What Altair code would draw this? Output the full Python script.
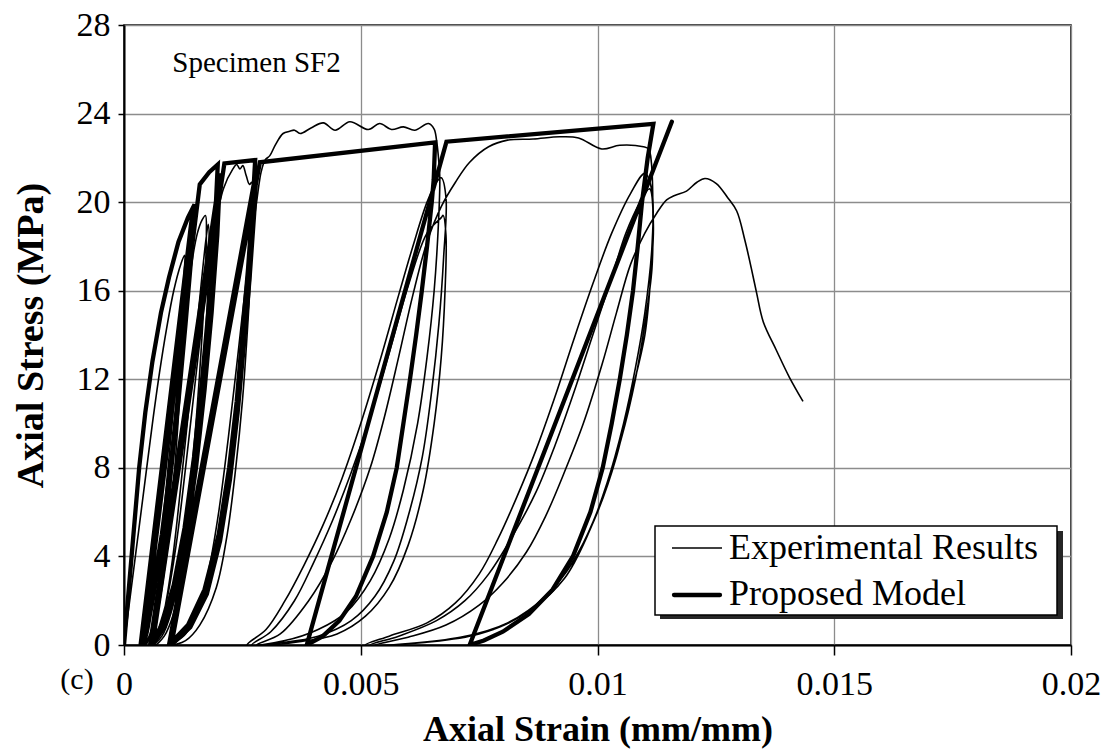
import altair as alt
import pandas as pd

# ---------------- data (strain mm/mm, stress MPa) ----------------
# Experimental results - successive branches of one continuous test record
exp_load1_x = [0, 0.00015, 0.0003, 0.00045, 0.0006, 0.00075, 0.0009, 0.00105, 0.0012, 0.00128]
exp_load1_y = [0, 2.5, 5, 7.5, 10, 12.3, 14.3, 16, 17.2, 17.6]
exp_unl1_x = [0.00126, 0.0012, 0.0011, 0.00098, 0.00085, 0.0007, 0.00055, 0.00042]
exp_unl1_y = [16.5, 14, 10.5, 7, 4, 1.8, 0.5, 0]
exp_rel1a_x = [0.0005, 0.00062, 0.00075, 0.0009, 0.00104, 0.00116, 0.00126, 0.00131]
exp_rel1a_y = [0.5, 2, 4.2, 7.3, 10.6, 13.6, 16, 17.2]
exp_unl1a_x = [0.0013, 0.00124, 0.00114, 0.00102, 0.00088, 0.00073, 0.00058, 0.00045]
exp_unl1a_y = [16, 13.5, 10, 6.6, 3.8, 1.7, 0.5, 0]
exp_rel1_x = [0.0005, 0.00065, 0.0008, 0.00095, 0.0011, 0.00125, 0.0014, 0.00155, 0.00165, 0.00172]
exp_rel1_y = [0.6, 2.2, 4.5, 7.5, 10.8, 14, 16.8, 18.6, 19.2, 19.4]
exp_unl2_x = [0.00174, 0.0017, 0.00162, 0.0015, 0.00136, 0.0012, 0.001, 0.0008, 0.0006]
exp_unl2_y = [18.5, 16, 13, 9.5, 6.3, 3.6, 1.5, 0.4, 0]
exp_rel2a_x = [0.00075, 0.0009, 0.00105, 0.0012, 0.00135, 0.0015, 0.00163, 0.00173, 0.00178]
exp_rel2a_y = [0.6, 2.1, 4.3, 7.2, 10.3, 13.5, 16.3, 18.3, 19.0]
exp_unl2a_x = [0.0018, 0.00176, 0.00168, 0.00156, 0.00142, 0.00126, 0.00106, 0.00085, 0.00065]
exp_unl2a_y = [18, 15.5, 12.5, 9.2, 6.1, 3.5, 1.5, 0.4, 0]
exp_rel2_x = [0.0007, 0.0009, 0.0011, 0.0013, 0.0015, 0.0017, 0.0019, 0.0021, 0.0023, 0.00238,
              0.00245, 0.00251, 0.00258, 0.00265, 0.0027]
exp_rel2_y = [0.5, 2, 4.5, 8, 11.8, 15.5, 18.6, 20.6, 21.5, 21.7, 21.5, 21.65, 21.2, 20.8, 20.9]
exp_unl3_x = [0.00272, 0.00268, 0.0026, 0.0025, 0.00236, 0.00218, 0.00195, 0.0016, 0.0013, 0.001]
exp_unl3_y = [19.5, 17, 14, 11, 8, 5, 2.6, 0.9, 0.2, 0]
exp_rel3_x = [0.0013, 0.0016, 0.0018, 0.002, 0.0022, 0.0024, 0.0026, 0.0028, 0.0029, 0.00298,
              0.00308, 0.0032, 0.00336, 0.0035, 0.0036, 0.00372, 0.00395, 0.00421, 0.00446, 0.00477,
              0.00516, 0.0054, 0.00565, 0.0059, 0.00614, 0.00643, 0.00655, 0.0066, 0.00665, 0.00667]
exp_rel3_y = [0.5, 1.8, 3.5, 6, 9.3, 13, 16.8, 20, 21.4, 21.9,
              22.1, 22.6, 23.1, 23.2, 23.25, 23.1, 23.35, 23.58, 23.25, 23.63,
              23.28, 23.55, 23.28, 23.4, 23.25, 23.55, 23.3, 22.8, 21.8, 21.1]
exp_unl4_x = [0.00664, 0.00655, 0.0064, 0.0062, 0.0059, 0.0056, 0.0052, 0.0047, 0.0041, 0.0034, 0.0026]
exp_unl4_y = [19, 16, 13, 10, 7, 4.8, 2.9, 1.5, 0.7, 0.2, 0]
exp_rel4_x = [0.003, 0.0034, 0.0038, 0.0042, 0.0046, 0.005, 0.0054, 0.0058, 0.0061, 0.0064, 0.0066, 0.0067]
exp_rel4_y = [0.7, 2, 3.6, 5.4, 7.5, 10, 12.8, 15.8, 18, 20, 20.9, 21.1]
exp_unl5_x = [0.0068, 0.00675, 0.00665, 0.0065, 0.0063, 0.006, 0.0057, 0.0053, 0.0048, 0.0041, 0.0033, 0.0027]
exp_unl5_y = [20.2, 17.5, 14.5, 11.5, 8.5, 5.8, 3.8, 2.2, 1.1, 0.4, 0.1, 0]
exp_rel5_x = [0.0031, 0.0036, 0.004, 0.0044, 0.0048, 0.0052, 0.0056, 0.006, 0.0064, 0.0067, 0.00674]
exp_rel5_y = [0.6, 2, 3.7, 5.6, 7.8, 10.3, 13.2, 16.2, 18.6, 19.3, 19.4]
exp_unl6_x = [0.0068, 0.00678, 0.0067, 0.00655, 0.00632, 0.006, 0.0056, 0.0051, 0.0045, 0.0037, 0.0028]
exp_unl6_y = [18.5, 16, 13, 10, 7, 4.5, 2.6, 1.3, 0.5, 0.15, 0]
exp_rel6_x = [0.0033, 0.0039, 0.0044, 0.0048, 0.0052, 0.0055, 0.0058, 0.0061, 0.0064, 0.0067, 0.007,
              0.0073, 0.0077, 0.0081, 0.00864, 0.0092, 0.0096, 0.01009, 0.01047, 0.01097, 0.01108, 0.01114]
exp_rel6_y = [0.5, 2, 3.8, 5.7, 8, 10.3, 13, 15.8, 18.2, 19.8, 20.9,
              21.8, 22.5, 22.8, 22.85, 22.95, 22.9, 22.4, 22.57, 22.5, 22.4, 21.74]
exp_unl7_x = [0.01117, 0.01115, 0.011, 0.0108, 0.0105, 0.0101, 0.0096, 0.009, 0.0083, 0.0075, 0.0065, 0.0051]
exp_unl7_y = [19.5, 17, 14.5, 12, 9.3, 6.6, 4.2, 2.4, 1.2, 0.5, 0.15, 0]
exp_rel7_x = [0.0056, 0.0064, 0.007, 0.0075, 0.0079, 0.0083, 0.0087, 0.0091, 0.0095, 0.0099, 0.0103, 0.0107, 0.011]
exp_rel7_y = [0.4, 1, 1.9, 3.2, 4.8, 6.7, 8.8, 11.2, 13.8, 16.3, 18.6, 20.4, 21.3]
exp_unl8_x = [0.01115, 0.01115, 0.011, 0.0108, 0.01055, 0.0102, 0.0098, 0.0093, 0.0086, 0.0078, 0.0067, 0.0052]
exp_unl8_y = [20.5, 18, 15, 12.5, 10, 7.3, 5, 3, 1.6, 0.7, 0.2, 0]
exp_rel8_x = [0.0058, 0.0066, 0.0072, 0.0077, 0.0082, 0.0087, 0.0091, 0.0095, 0.0099, 0.0103, 0.0106, 0.0109, 0.0111]
exp_rel8_y = [0.4, 1.1, 2, 3.2, 4.9, 6.9, 9, 11.4, 14, 16.6, 18.6, 20, 20.6]
exp_unl9_x = [0.01118, 0.01112, 0.011, 0.0107, 0.0104, 0.01, 0.0095, 0.0089, 0.0081, 0.0071, 0.0053]
exp_unl9_y = [19, 16.5, 14, 11.2, 8.5, 6, 3.8, 2.2, 1, 0.35, 0]
exp_rel9_x = [0.006, 0.0068, 0.0075, 0.008, 0.0085, 0.0089, 0.0093, 0.0097, 0.0101, 0.0104, 0.0107,
              0.011, 0.01125, 0.01146, 0.01163, 0.01188, 0.0121, 0.01227, 0.01251, 0.01275, 0.01294,
              0.01311, 0.01325, 0.01336, 0.0135, 0.01378, 0.01405, 0.01434]
exp_rel9_y = [0.35, 0.9, 1.8, 2.8, 4.2, 5.8, 7.8, 10, 12.7, 15, 17.2,
              18.6, 19.5, 20.1, 20.3, 20.5, 20.9, 21.07, 20.84, 20.2, 19.6,
              18.3, 17, 15.9, 14.6, 13.3, 12.1, 11.0]

# Proposed model - one continuous path
model_x = [0, 0.0001, 0.0002, 0.00032, 0.00045, 0.0006, 0.00078, 0.00095, 0.00115, 0.00135, 0.00149,
           0.00142, 0.0013, 0.00115, 0.001, 0.00082, 0.00062, 0.00045, 0.00035,
           0.00145,
           0.00139, 0.00127, 0.00113, 0.00098, 0.0008, 0.0006, 0.00048, 0.0004,
           0.0016, 0.0018, 0.00198,
           0.00192, 0.0018, 0.00165, 0.00148, 0.00128, 0.00105, 0.0008, 0.00055,
           0.00203,
           0.00197, 0.00185, 0.0017, 0.00152, 0.00132, 0.0011, 0.00085, 0.0006,
           0.00212, 0.00277,
           0.00272, 0.00262, 0.0025, 0.00238, 0.00222, 0.002, 0.0017, 0.00135, 0.00095,
           0.0028,
           0.00275, 0.00265, 0.00253, 0.0024, 0.00224, 0.00203, 0.00175, 0.0014, 0.001,
           0.00287, 0.00657,
           0.00654, 0.0065, 0.0064, 0.00629, 0.00617, 0.00604, 0.0059, 0.00576, 0.00555,
           0.00526, 0.0049, 0.00455, 0.0042, 0.00386,
           0.00681, 0.01118,
           0.01106, 0.01094, 0.01085, 0.01075, 0.01062, 0.01047, 0.0103, 0.01011, 0.00985,
           0.00948, 0.00905, 0.00855, 0.008, 0.0076, 0.0073,
           0.01157]
model_y = [0, 2.5, 5, 8, 10.5, 12.8, 15, 16.6, 18.2, 19.3, 19.9,
           17.5, 14.5, 11, 8, 5, 2.4, 0.7, 0,
           19.6,
           17.3, 14.3, 11, 8, 5, 2.4, 0.7, 0,
           20.8, 21.35, 21.7,
           19, 15.5, 12, 8.5, 5.3, 2.7, 0.9, 0,
           21.3,
           18.5, 15, 11.5, 8, 5, 2.5, 0.8, 0,
           21.75, 21.9,
           20, 17, 14, 11, 8, 5, 2.5, 0.9, 0,
           21.5,
           19.5, 16.5, 13.5, 10.5, 7.5, 4.7, 2.3, 0.8, 0,
           21.8, 22.7,
           21, 20, 18, 16, 14, 12, 10, 8, 6,
           4, 2.2, 1.1, 0.4, 0,
           22.73, 23.54,
           22, 20, 18, 16, 14, 12, 10, 8, 6,
           4, 2.5, 1.4, 0.6, 0.2, 0,
           23.63]

x_ticks = [0, 0.005, 0.01, 0.015, 0.02]
y_ticks = [0, 4, 8, 12, 16, 20, 24, 28]
legend_labels = ["Experimental Results", "Proposed Model"]
note_text = ["Specimen SF2"]
note_pos = [0.00102, 25.9]
panel_label = ["(c)"]

# ---------------- build tables ----------------
exp_branches = [
    (exp_load1_x, exp_load1_y), (exp_unl1_x, exp_unl1_y),
    (exp_rel1a_x, exp_rel1a_y), (exp_unl1a_x, exp_unl1a_y),
    (exp_rel1_x, exp_rel1_y), (exp_unl2_x, exp_unl2_y),
    (exp_rel2a_x, exp_rel2a_y), (exp_unl2a_x, exp_unl2a_y),
    (exp_rel2_x, exp_rel2_y), (exp_unl3_x, exp_unl3_y),
    (exp_rel3_x, exp_rel3_y), (exp_unl4_x, exp_unl4_y), (exp_rel4_x, exp_rel4_y),
    (exp_unl5_x, exp_unl5_y), (exp_rel5_x, exp_rel5_y), (exp_unl6_x, exp_unl6_y),
    (exp_rel6_x, exp_rel6_y), (exp_unl7_x, exp_unl7_y), (exp_rel7_x, exp_rel7_y),
    (exp_unl8_x, exp_unl8_y), (exp_rel8_x, exp_rel8_y), (exp_unl9_x, exp_unl9_y),
    (exp_rel9_x, exp_rel9_y),
]
rows = []
k = 0
for bx, by in exp_branches:
    for a, b in zip(bx, by):
        rows.append({"strain": a, "stress": b, "i": k})
        k += 1
exp_df = pd.DataFrame(rows)
model_df = pd.DataFrame({"strain": model_x, "stress": model_y, "i": list(range(len(model_x)))})

FONT = "Liberation Serif"
W, H = 947, 620

xenc = alt.X("strain:Q", scale=alt.Scale(domain=[0, 0.02], nice=False, zero=False),
             axis=alt.Axis(values=x_ticks, format="~g", title="Axial Strain (mm/mm)",
                           tickSize=10, labelPadding=12, titlePadding=11, labelFlush=False,
                           titleFontSize=36))
yenc = alt.Y("stress:Q", scale=alt.Scale(domain=[0, 28], nice=False),
             axis=alt.Axis(values=y_ticks, title="Axial Stress (MPa)", tickSize=6,
                           labelPadding=8, titlePadding=26, titleFontSize=38))

exp_layer = alt.Chart(exp_df).mark_line(
    color="black", strokeWidth=1.6, interpolate="catmull-rom", clip=True
).encode(x=xenc, y=yenc, order="i:Q")

model_layer = alt.Chart(model_df).mark_line(
    color="black", strokeWidth=4.3, strokeCap="round", clip=True
).encode(x=xenc, y=yenc, order="i:Q")

note_layer = alt.Chart(pd.DataFrame({"strain": [note_pos[0]], "stress": [note_pos[1]],
                                     "t": note_text})).mark_text(
    font=FONT, fontSize=29, align="left", baseline="alphabetic", color="black"
).encode(x=alt.X("strain:Q"), y=alt.Y("stress:Q"), text="t:N")

panel_layer = alt.Chart(pd.DataFrame({"t": panel_label})).mark_text(
    font=FONT, fontSize=30, align="center", baseline="middle", color="black"
).encode(x=alt.value(-47), y=alt.value(H + 35), text="t:N")

one = pd.DataFrame({"d": [0]})
# legend box (with drop shadow)
lg_left, lg_right, lg_top, lg_bottom = 531, 933, 501, 590
shadow = alt.Chart(one).mark_rect(color="#262626").encode(
    x=alt.value(lg_left + 5), x2=alt.value(lg_right + 6),
    y=alt.value(lg_top + 5), y2=alt.value(lg_bottom + 4))
box = alt.Chart(one).mark_rect(fill="white", stroke="black", strokeWidth=1.5).encode(
    x=alt.value(lg_left), x2=alt.value(lg_right), y=alt.value(lg_top), y2=alt.value(lg_bottom))
sample1 = alt.Chart(one).mark_rule(color="black", strokeWidth=1.6).encode(
    x=alt.value(548), x2=alt.value(598), y=alt.value(523))
sample2 = alt.Chart(one).mark_rule(color="black", strokeWidth=4.3, strokeCap="round").encode(
    x=alt.value(550), x2=alt.value(596), y=alt.value(570))
lab1 = alt.Chart(pd.DataFrame({"t": [legend_labels[0]]})).mark_text(
    font=FONT, fontSize=36, align="left", baseline="middle", color="black"
).encode(x=alt.value(605), y=alt.value(523), text="t:N")
lab2 = alt.Chart(pd.DataFrame({"t": [legend_labels[1]]})).mark_text(
    font=FONT, fontSize=36, align="left", baseline="middle", color="black"
).encode(x=alt.value(605), y=alt.value(569), text="t:N")

chart = alt.layer(
    exp_layer, model_layer, note_layer, panel_layer,
    shadow, box, sample1, sample2, lab1, lab2
).properties(
    width=W, height=H,
    autosize=alt.AutoSizeParams(type="none"),
    padding={"left": 124, "top": 25, "right": 48, "bottom": 108},
    background="white",
).configure(
    font=FONT
).configure_text(
    font=FONT
).configure_axis(
    labelFont=FONT, titleFont=FONT, labelFontSize=34, titleFontWeight="bold",
    labelColor="black", titleColor="black", domainColor="black", tickColor="black",
    gridColor="#8c8c8c", gridWidth=1.3, domainWidth=2, tickWidth=1.5,
).configure_view(stroke="black", strokeWidth=1.5)

chart.save("out.html", embed_options={"renderer": "svg", "actions": False})
